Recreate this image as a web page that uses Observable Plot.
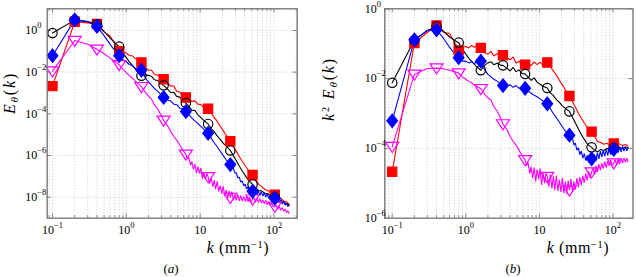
<!DOCTYPE html>
<html><head><meta charset="utf-8">
<script src="https://cdn.jsdelivr.net/npm/d3@7"></script>
<script src="https://cdn.jsdelivr.net/npm/@observablehq/plot@0.6"></script>
<style>
body{margin:0;background:#fff;}
#wrap{position:relative;width:636px;height:277px;background:#fff;font-family:"Liberation Serif","DejaVu Serif",serif;color:#000;overflow:hidden;}
.lbl{position:absolute;white-space:nowrap;line-height:1;font-size:16px;letter-spacing:0.6px;}
.ytl{font-size:16px;letter-spacing:1.8px;}
.lbl sub{font-size:0.7em;vertical-align:-0.2em;}
.lbl sup{font-size:0.65em;vertical-align:0.5em;}
.cap{font-size:13px;letter-spacing:0;}
#wrap svg text{font-size:12px;font-family:"Liberation Serif","DejaVu Serif",serif;}
</style></head><body>
<div id="wrap">
  <div id="pa" style="position:absolute;left:0;top:0"></div>
  <div id="pb" style="position:absolute;left:316px;top:0"></div>
  <div class="lbl ytl" style="left:11px;top:93px;transform:translate(-50%,-50%) rotate(-90deg)"><i>E</i><sub><i>θ</i></sub>(<i>k</i>)</div>
  <div class="lbl ytl" style="left:330px;top:89px;transform:translate(-50%,-50%) rotate(-90deg)"><i>k</i><sup>2</sup> <i>E</i><sub><i>θ</i></sub>(<i>k</i>)</div>
  <div class="lbl" style="left:238px;top:248px;transform:translate(-50%,-50%)"><i>k</i> (mm<sup>−1</sup>)</div>
  <div class="lbl" style="left:578px;top:248px;transform:translate(-50%,-50%)"><i>k</i> (mm<sup>−1</sup>)</div>
  <div class="lbl cap" style="left:171px;top:268px;transform:translate(-50%,-50%)">(<i>a</i>)</div>
  <div class="lbl cap" style="left:513px;top:268px;transform:translate(-50%,-50%)">(<i>b</i>)</div>
</div>
<script>
// wavenumbers (mm^-1) for the red and black spectra
const kGrid = [0.1,0.2,0.3,0.4,0.5,0.6,0.7,0.8,0.9,1.0,1.1,1.2,1.3,1.4,1.6,1.8,2.0,2.2,2.4,2.7,3.0,3.2,3.6,4.0,4.4,4.8,5.3,5.8,6.4,7.0,7.7,8.5,9.3,10.2,11.2,12.8,14,15.4,17,18.7,20.5,22.5,25.6,28,31,34,37.5,41,45,51.2,56,62,68,75,82,90,102.4,112,123,135,148,160];
// wavenumbers for the blue spectrum (denser in its noisy tail)
const blueK = [0.1,0.2,0.3,0.4,0.5,0.6,0.7,0.8,0.9,1.0,1.1,1.2,1.3,1.4,1.6,1.8,2.0,2.2,2.4,2.7,3.0,3.2,3.6,4.0,4.4,4.8,5.3,5.8,6.4,7.0,7.7,8.5,9.3,10.2,11.2,12.8,14,15.4,17,18.7,20.5,22.5,25.6,
 26.8,28.1,29.4,30.8,32.3,33.8,35.4,37.1,38.9,40.7,42.6,44.6,46.7,48.9,51.2,53.6,56,58.7,61.4,64.3,67.3,70.5,73.8,77.3,81,84.8,88.8,93,97.4,102.4,107,112,117,123,129,135,141,148,154,160];
// wavenumbers for the magenta spectrum (denser in its noisy band)
const magentaK = [0.1,0.2,0.3,0.4,0.5,0.6,0.7,0.8,0.9,1.0,1.1,1.2,1.3,1.4,1.6,1.8,2.0,2.2,2.4,2.7,3.0,3.2,3.6,4.0,4.4,4.8,5.3,5.8,
 6.4,6.7,7.0,7.4,7.7,8.1,8.5,8.9,9.3,9.8,10.2,10.7,11.2,11.8,12.3,12.8,13.4,14.1,14.8,15.5,16.2,17.0,17.8,18.7,19.6,20.5,21.5,22.5,23.6,24.6,25.6,26.8,28.1,29.4,30.8,32.3,33.8,35.4,37.1,38.9,40.7,42.6,44.6,46.7,48.9,51.2,
 53.6,56,58.7,61.4,64.3,67.3,70.5,73.8,77.3,81,84.8,88.8,93,97.4,102.4,107,112,117,123,129,135,141,148,154,160];
// wavenumbers carrying a marker
const markerK = [0.1,0.2,0.4,0.8,1.6,3.2,6.4,12.8,25.6,51.2,102.4];

// log10 of k^2 E_theta(k)
const redLog = [-4.67,-0.98,-0.68,-0.48,-0.67,-0.71,-0.95,-1.19,-1.10,-1.08,
 -1.12,-1.05,-1.10,-1.07,
 -1.12,-1.25,-1.30,-1.22,-1.35,-1.28,-1.38,
 -1.33,-1.40,-1.46,-1.38,-1.55,-1.50,-1.62,
 -1.60,-1.55,-1.63,-1.52,-1.60,-1.53,-1.62,
 -1.54,-1.65,-1.78,-1.90,-2.05,-2.18,-2.32,
 -2.50,-2.65,-2.83,-3.00,-3.15,-3.28,-3.40,
 -3.52,-3.65,-3.80,-3.83,-3.88,-3.85,-3.90,
 -3.86,-3.88,-3.87,-3.92,-3.89,-3.93];
const blackLog = [-2.12,-0.90,-0.62,-0.50,-0.65,-0.80,-0.90,-0.97,-1.15,-1.30,
 -1.42,-1.50,-1.58,-1.66,
 -1.76,-1.62,-1.55,-1.52,-1.60,-1.55,-1.62,
 -1.62,-1.70,-1.78,-1.68,-1.80,-1.75,-1.85,
 -1.87,-1.95,-2.05,-1.98,-2.10,-2.16,-2.22,
 -2.27,-2.40,-2.48,-2.60,-2.68,-2.78,-2.85,
 -2.94,-3.10,-3.28,-3.45,-3.62,-3.75,-3.88,
 -3.97,-4.05,-4.10,-4.03,-4.06,-4.00,-4.03,
 -3.98,-4.02,-3.97,-4.00,-3.96,-3.98];
const blueLog = [-3.21,-0.89,-0.62,-0.60,-0.85,-1.10,-1.28,-1.40,-1.50,-1.50,
 -1.55,-1.52,-1.58,-1.52,
 -1.50,-1.75,-1.88,-1.95,-2.02,-2.08,-2.15,
 -2.20,-2.22,-2.18,-2.25,-2.20,-2.28,-2.24,
 -2.28,-2.35,-2.42,-2.48,-2.52,-2.58,-2.64,
 -2.72,-2.85,-3.00,-3.12,-3.25,-3.38,-3.50,
 -3.62,
 -3.75,-3.70,-3.90,-3.85,-4.05,-3.98,-4.18,-4.08,-4.28,-4.15,
 -4.35,-4.20,-4.38,-4.22,-4.30,-4.40,-4.18,-4.35,-4.12,-4.30,
 -4.08,-4.25,-4.05,-4.22,-4.02,-4.20,-4.00,-4.18,-3.98,-4.03,
 -4.15,-3.96,-4.12,-3.95,-4.10,-3.94,-4.08,-3.95,-4.07,-3.98];
const magentaLog = [-3.95,-1.88,-1.71,-1.70,-1.72,-1.76,-1.80,-1.84,-1.95,-2.02,
 -2.08,-2.12,-2.18,-2.22,
 -2.29,-2.45,-2.55,-2.62,-2.80,-2.95,-3.15,
 -3.30,-3.45,-3.65,-3.80,-3.90,-4.05,-4.20,
 -4.33,-4.50,-4.40,-4.72,-4.52,-4.85,-4.55,-4.95,-4.60,-4.88,
 -4.58,-5.05,-4.70,-5.00,-4.68,-4.81,-5.10,-4.75,-5.15,-4.80,
 -5.20,-4.78,-5.22,-4.90,-5.25,-4.85,-5.28,-4.95,-5.30,-4.92,
 -5.20,-4.88,-5.25,-4.95,-5.18,-4.85,-5.12,-4.82,-5.05,-4.78,
 -4.98,-4.72,-4.92,-4.65,-4.85,-4.68,
 -4.55,-4.75,-4.50,-4.68,-4.45,-4.62,-4.42,-4.58,-4.38,-4.55,
 -4.36,-4.50,-4.33,-4.48,-4.42,-4.32,-4.48,-4.30,-4.45,-4.28,
 -4.42,-4.27,-4.40,-4.28,-4.38];

const xTickValues = [0.1, 1, 10, 100];
const xTickLabels = ["10^−1", "10^0", "10", "10^2"];
const yTickValuesA = [1, 1e-2, 1e-4, 1e-6, 1e-8];
const yTickLabelsA = ["10^0", "10^−2", "10^−4", "10^−6", "10^−8"];
const yTickValuesB = [1, 1e-2, 1e-4, 1e-6];
const yTickLabelsB = ["10^0", "10^−2", "10^−4", "10^−6"];

// marker shapes
const squareSym = {draw(ctx, size){const r = Math.sqrt(size/Math.PI); ctx.rect(-r,-r,2*r,2*r);}};
const diamondSym = {draw(ctx, size){const r = Math.sqrt(size/Math.PI); ctx.moveTo(0,-r); ctx.lineTo(0.8*r,0); ctx.lineTo(0,r); ctx.lineTo(-0.8*r,0); ctx.closePath();}};
const triDownSym = {draw(ctx, size){const r = Math.sqrt(size/Math.PI); ctx.moveTo(-r,-0.65*r); ctx.lineTo(r,-0.65*r); ctx.lineTo(0,0.9*r); ctx.closePath();}};

const series = [
  {color:"#ff0000", ks:kGrid, log:redLog, symbol:squareSym, r:4.6, filled:true},
  {color:"#000000", ks:kGrid, log:blackLog, symbol:"circle", r:4.7, filled:false},
  {color:"#ff00ff", ks:magentaK, log:magentaLog, symbol:triDownSym, r:6.5, filled:false},
  {color:"#0000ff", ks:blueK, log:blueLog, symbol:diamondSym, r:6.7, filled:true}
];
series.forEach(s => {
  s.rows = s.ks.map((k, i) => ({k, k2e: 10 ** s.log[i], e: 10 ** s.log[i] / (k * k)}));
  s.markers = markerK.map(mk => s.rows[s.ks.findIndex(k => Math.abs(k - mk) < 1e-9)]);
});

function supify(svg, axis, anchorStartDx){
  svg.querySelectorAll('g[aria-label="' + axis + '-axis tick label"] text').forEach(t => {
    const s = t.textContent; const i = s.indexOf("^");
    if (anchorStartDx != null){ t.setAttribute("text-anchor","start"); t.setAttribute("dx", anchorStartDx); }
    if (i < 0) return;
    t.textContent = s.slice(0, i);
    const ts = document.createElementNS("http://www.w3.org/2000/svg","tspan");
    ts.setAttribute("dy", "-6"); ts.setAttribute("font-size", "8.5"); ts.style.fontSize = "8.5px";
    ts.textContent = s.slice(i + 1);
    t.appendChild(ts);
  });
}

function panel(o){
  const {yKey, xDomain, yDomain, width, height, ml, mr, mt, mb, yTicks, yLabels, yDx} = o;
  const gridX = [];
  for (let d = -2; d <= 2; d++) for (let m = 1; m <= 9; m++){ const v = m * 10 ** d; if (v >= xDomain[0] && v <= xDomain[1]) gridX.push(v); }
  const decY = (height - mt - mb) / Math.log10(yDomain[1] / yDomain[0]);
  const decX = (width - ml - mr) / Math.log10(xDomain[1] / xDomain[0]);
  const isMajor = v => xTickValues.some(t => Math.abs(t - v) < 1e-9);
  const gridStyle = {stroke:"#bdbdbd", strokeWidth:0.8, strokeDasharray:"1,2"};
  const tickStyle = {stroke:"#666", strokeWidth:0.8};
  const marks = [
    Plot.ruleX(gridX, {...gridStyle}),
    Plot.ruleY(yTicks.filter(v => v > yDomain[0] * 1.01 && v < yDomain[1] * 0.99), {...gridStyle}),
    Plot.ruleX(gridX, {y1: () => yDomain[0], y2: v => yDomain[0] * 10 ** ((isMajor(v) ? 4 : 2.5) / decY), ...tickStyle}),
    Plot.ruleX(gridX, {y1: () => yDomain[1], y2: v => yDomain[1] / 10 ** ((isMajor(v) ? 4 : 2.5) / decY), ...tickStyle}),
    Plot.ruleY(yTicks, {x1: () => xDomain[0], x2: () => xDomain[0] * 10 ** (4 / decX), ...tickStyle}),
    Plot.ruleY(yTicks, {x1: () => xDomain[1], x2: () => xDomain[1] / 10 ** (4 / decX), ...tickStyle})
  ];
  series.forEach(s => marks.push(Plot.line(s.rows, {x:"k", y:yKey, stroke:s.color, strokeWidth:1.1, strokeLinejoin:"miter"})));
  series.forEach(s => marks.push(Plot.dot(s.markers, {x:"k", y:yKey, symbol:s.symbol, r:s.r, fill: s.filled ? s.color : "none", stroke:s.color, strokeWidth:1.2})));
  marks.push(Plot.frame({stroke:"#7a7a7a", strokeWidth:1.4}));
  marks.push(Plot.axisX({ticks:xTickValues, tickSize:0, tickPadding:7, label:null, tickFormat: v => xTickLabels[xTickValues.findIndex(t => Math.abs(t - v) < 1e-9)]}));
  marks.push(Plot.axisY({ticks:yTicks, tickSize:0, tickPadding:2, label:null, tickFormat: v => yLabels[yTicks.findIndex(t => Math.abs(Math.log10(t) - Math.log10(v)) < 1e-6)]}));
  const svg = Plot.plot({
    width, height, marginLeft:ml, marginRight:mr, marginTop:mt, marginBottom:mb,
    x:{type:"log", domain:xDomain},
    y:{type:"log", domain:yDomain},
    style:{fontFamily:'"Liberation Serif", "DejaVu Serif", serif', fontSize:"12px", background:"transparent", overflow:"visible"},
    marks
  });
  supify(svg, "x", null);
  supify(svg, "y", yDx);
  return svg;
}

document.getElementById("pa").appendChild(panel({
  yKey:"e", xDomain:[0.0848, 206], yDomain:[9.8e-10, 11],
  width:316, height:240, ml:46.7, mr:19.3, mt:8.3, mb:22.3,
  yTicks:yTickValuesA, yLabels:yTickLabelsA, yDx:-20
}));
document.getElementById("pb").appendChild(panel({
  yKey:"k2e", xDomain:[0.0793, 187], yDomain:[1e-6, 1],
  width:320, height:240, ml:68.3, mr:3.5, mt:8.3, mb:22.3,
  yTicks:yTickValuesB, yLabels:yTickLabelsB, yDx:-18
}));
</script>
</body></html>
